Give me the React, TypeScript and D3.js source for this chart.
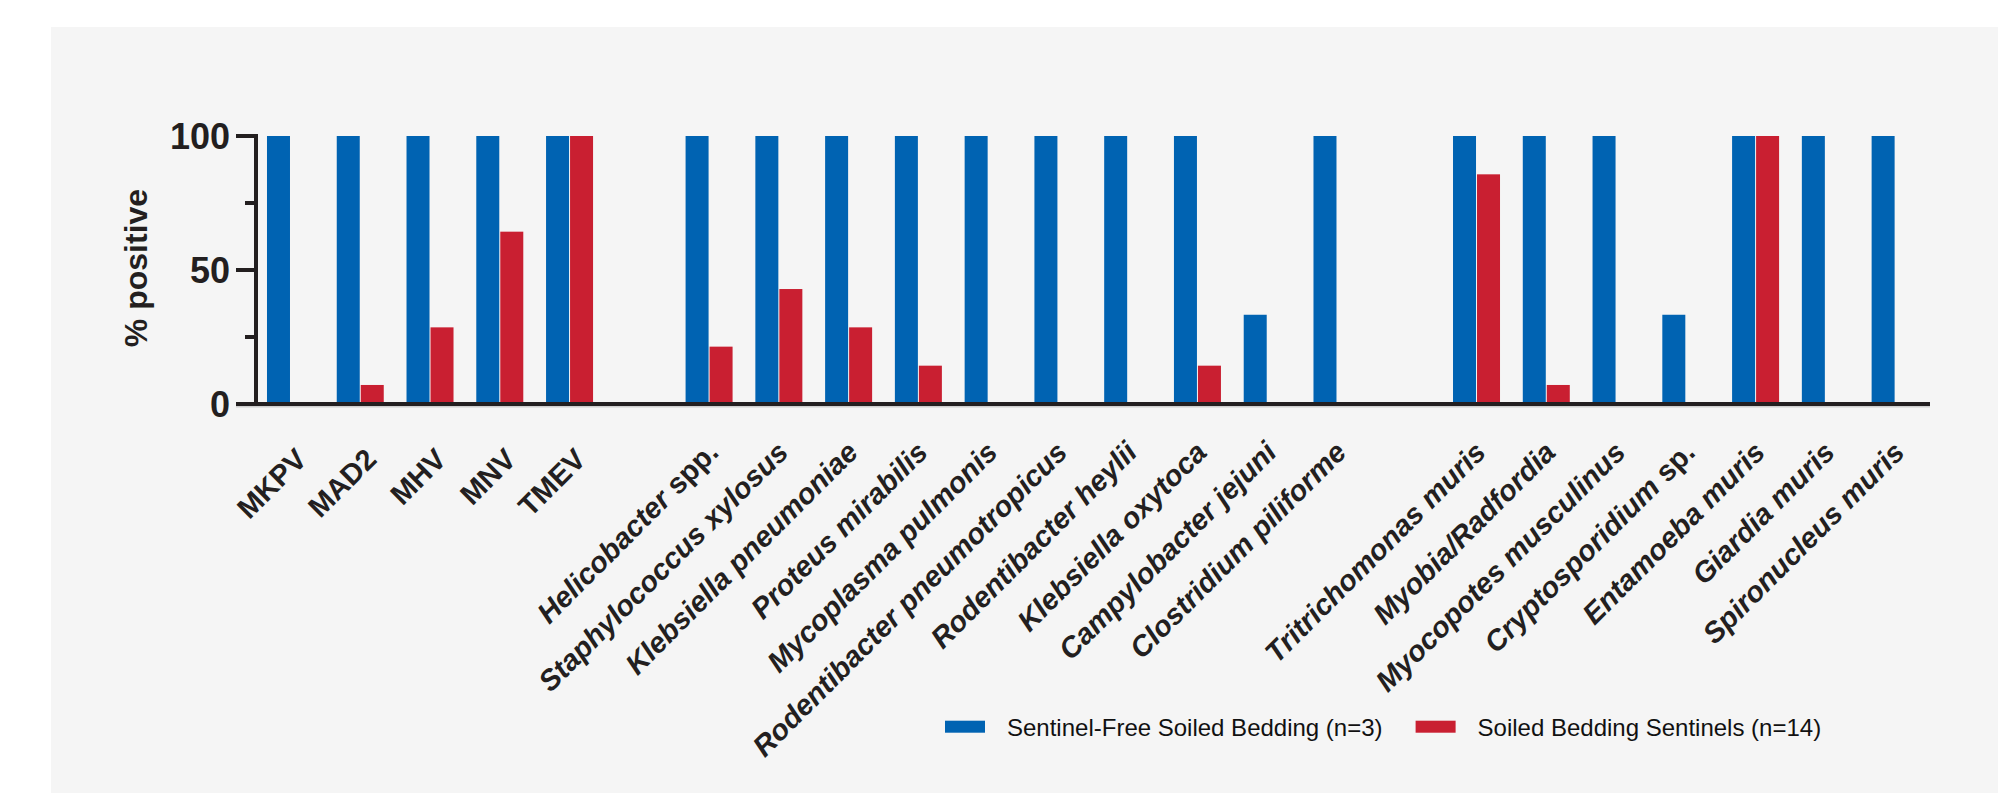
import { useEffect, useRef } from "react";
import * as d3 from "d3";

// slots along the x axis; null = empty spacer slot
const categories: (string | null)[] = [
  "MKPV", "MAD2", "MHV", "MNV", "TMEV",
  null,
  "Helicobacter spp.", "Staphylococcus xylosus", "Klebsiella pneumoniae", "Proteus mirabilis",
  "Mycoplasma pulmonis", "Rodentibacter pneumotropicus", "Rodentibacter heylii",
  "Klebsiella oxytoca", "Campylobacter jejuni", "Clostridium piliforme",
  null,
  "Tritrichomonas muris", "Myobia/Radfordia", "Myocopotes musculinus", "Cryptosporidium sp.",
  "Entamoeba muris", "Giardia muris", "Spironucleus muris",
];
// upright (non-italic) names
const uprightLabels = ["MKPV", "MAD2", "MHV", "MNV", "TMEV"];

const sentinelFree: (number | null)[] = [
  100, 100, 100, 100, 100,
  null,
  100, 100, 100, 100, 100, 100, 100, 100, 33.3, 100,
  null,
  100, 100, 100, 33.3, 100, 100, 100,
];
const soiledSentinels: (number | null)[] = [
  0, 7.1, 28.6, 64.3, 100,
  null,
  21.4, 42.9, 28.6, 14.3, 0, 0, 0, 14.3, 0, 0,
  null,
  85.7, 7.1, 0, 0, 100, 0, 0,
];
const yTicks = [0, 50, 100];
const yMinorTicks = [25, 75];
const seriesNames = ["Sentinel-Free Soiled Bedding (n=3)", "Soiled Bedding Sentinels (n=14)"];
const seriesColors = ["#0063B2", "#C91F31"];

export default function App() {
  const svgRef = useRef<SVGSVGElement>(null);

  useEffect(() => {
    const svg = d3.select(svgRef.current);
    svg.selectAll("*").remove();
    const W = 1998, H = 793;
    const font = "'Liberation Sans', Arial, Helvetica, sans-serif";
    const ink = "#231F20";

    svg.append("rect").attr("width", W).attr("height", H).attr("fill", "#ffffff");
    svg.append("rect").attr("x", 51).attr("y", 27).attr("width", W - 51).attr("height", H - 27).attr("fill", "#F5F5F5");

    const x = d3.scaleBand<number>()
      .domain(categories.map((_, i) => i))
      .range([255.6, 1930])
      .padding(0);
    const y = d3.scaleLinear().domain([0, 100]).range([404, 136]);
    const barW = 23;

    // bars
    const g = svg.append("g");
    categories.forEach((c, i) => {
      if (c === null) return;
      const cx = x(i)! + x.bandwidth() / 2;
      const a = sentinelFree[i];
      const b = soiledSentinels[i];
      if (a) g.append("rect").attr("x", cx - barW - 0.5).attr("y", y(a)).attr("width", barW).attr("height", y(0) - 2 - y(a)).attr("fill", seriesColors[0]);
      if (b) g.append("rect").attr("x", cx + 0.5).attr("y", y(b)).attr("width", barW).attr("height", y(0) - 2 - y(b)).attr("fill", seriesColors[1]);
    });

    // y axis
    const ax = svg.append("g").attr("stroke", ink).attr("stroke-width", 4);
    ax.append("line").attr("x1", 256).attr("x2", 256).attr("y1", y(100) - 2).attr("y2", y(0) + 2);
    yTicks.forEach(t => ax.append("line").attr("x1", 236).attr("x2", 256).attr("y1", y(t)).attr("y2", y(t)));
    yMinorTicks.forEach(t => ax.append("line").attr("x1", 245).attr("x2", 256).attr("y1", y(t)).attr("y2", y(t)));
    // baseline with faint shadow
    svg.append("line").attr("x1", 236).attr("x2", 1930).attr("y1", y(0) + 2.8).attr("y2", y(0) + 2.8).attr("stroke", "#cfcfcf").attr("stroke-width", 1.5);
    svg.append("line").attr("x1", 236).attr("x2", 1930).attr("y1", y(0)).attr("y2", y(0)).attr("stroke", ink).attr("stroke-width", 4);

    svg.append("g").selectAll("text").data(yTicks).join("text")
      .attr("x", 230).attr("y", d => y(d)).attr("dy", "0.36em")
      .attr("text-anchor", "end").attr("font-family", font).attr("font-weight", "bold")
      .attr("font-size", 36).attr("fill", ink).text(d => d);

    svg.append("text")
      .attr("transform", "translate(147,268) rotate(-90)")
      .attr("text-anchor", "middle").attr("font-family", font).attr("font-weight", "bold")
      .attr("font-size", 32).attr("fill", ink).text("% positive");

    // x labels
    const lab = svg.append("g");
    categories.forEach((c, i) => {
      if (c === null) return;
      const cx = x(i)! + x.bandwidth() / 2;
      const upright = uprightLabels.includes(c);
      const t = lab.append("text")
        .attr("transform", upright
          ? `translate(${cx + 18},${461}) rotate(-45)`
          : `translate(${cx + 11},${454}) rotate(-45)`)
        .attr("text-anchor", "end").attr("font-family", font).attr("font-weight", "bold")
        .attr("font-size", 29).attr("fill", ink);
      if (upright) {
        t.text(c);
      } else {
        const m = c.match(/^(.*?)( spp?\.)$/);
        if (m) {
          t.append("tspan").attr("font-style", "italic").text(m[1]);
          t.append("tspan").text(m[2]);
        } else {
          t.attr("font-style", "italic").text(c);
        }
      }
    });

    // legend
    const legendX = [945, 1415.6];
    seriesNames.forEach((name, i) => {
      svg.append("rect").attr("x", legendX[i]).attr("y", 720.7).attr("width", 40).attr("height", 12)
        .attr("fill", seriesColors[i]);
      svg.append("text").attr("x", legendX[i] + 62).attr("y", 736)
        .attr("font-family", font).attr("font-size", 24).attr("fill", "#111")
        .text(name);
    });
  }, []);

  return (
    <svg ref={svgRef} width={1998} height={793} style={{ position: "absolute", left: 0, top: 0 }} />
  );
}
